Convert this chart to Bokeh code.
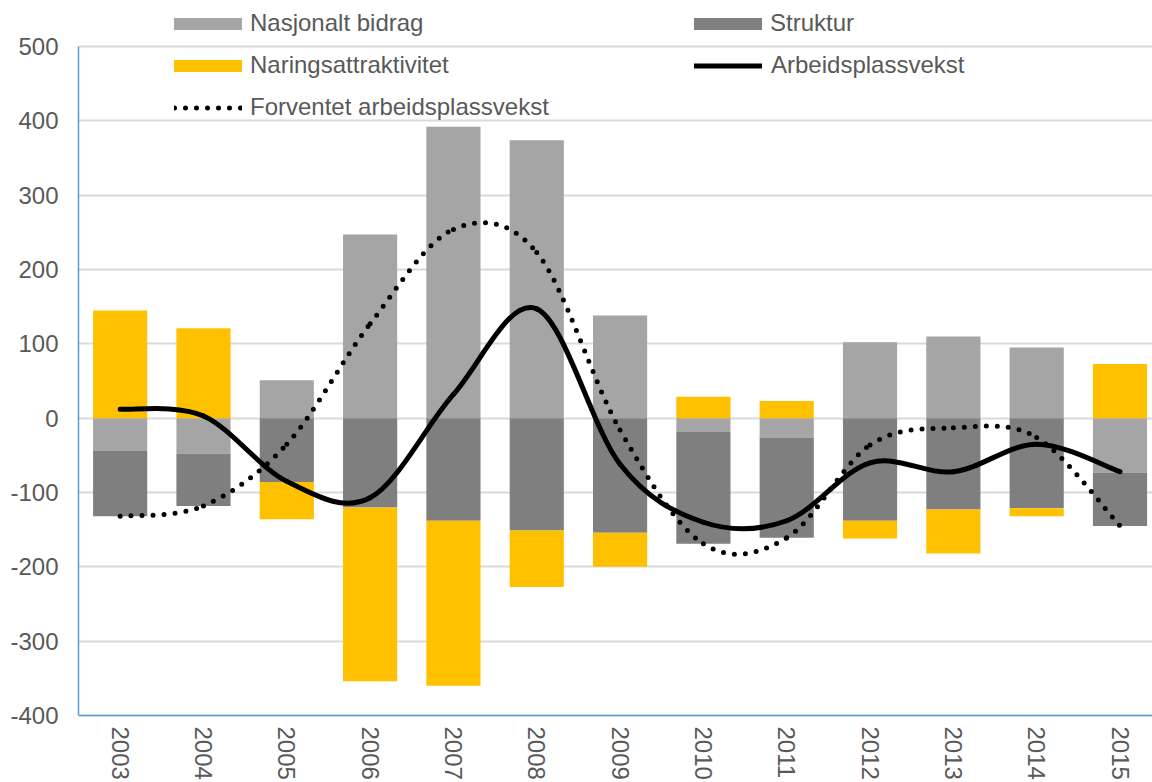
import math
import numpy as np
from bokeh.plotting import figure
from bokeh.models import FixedTicker, Legend, LegendItem, Range1d, ColumnDataSource
from bokeh.embed import file_html
from bokeh.resources import INLINE

# ---------------- data ----------------
years = ["2003", "2004", "2005", "2006", "2007", "2008", "2009",
         "2010", "2011", "2012", "2013", "2014", "2015"]
nasjonalt_bidrag = [-44, -48, 51, 247, 392, 374, 138, -18, -26, 102, 110, 95, -73]
struktur = [-88, -70, -86, -120, -138, -151, -154, -151, -135, -138, -123, -121, -72]
naringsattraktivitet = [145, 121, -50, -234, -222, -76, -46, 29, 23, -24, -59, -11, 73]
arbeidsplassvekst = [12, 3, -85, -107, 32, 147, -62, -140, -138, -60, -72, -35, -72]
forventet_arbeidsplassvekst = [-132, -118, -35, 127, 254, 223, -16, -169, -161, -36, -13, -26, -145]
y_ticks = [-400, -300, -200, -100, 0, 100, 200, 300, 400, 500]
y_tick_labels = ["-400", "-300", "-200", "-100", "0", "100", "200", "300", "400", "500"]

series_names = ["Nasjonalt bidrag", "Struktur", "Naringsattraktivitet"]
series_values = [nasjonalt_bidrag, struktur, naringsattraktivitet]
series_colors = ["#A5A5A5", "#7F7F7F", "#FFC000"]

FONT = "Liberation Sans"
TXT = "#595959"

xs = np.arange(len(years), dtype=float)

W, H = 1152, 782
p = figure(width=W, height=H, output_backend="svg", toolbar_location=None,
           x_range=Range1d(-0.5, 12.39), y_range=Range1d(-490.1, 561.9),
           min_border_left=78, min_border_right=0, min_border_top=0,
           min_border_bottom=0)
p.outline_line_color = None
p.background_fill_color = "white"
p.border_fill_color = "white"

# ---- stacked bars (positives stack up, negatives stack down) ----
pos_acc = np.zeros(len(years))
neg_acc = np.zeros(len(years))
bar_renderers = []
for name, vals, col in zip(series_names, series_values, series_colors):
    v = np.array(vals, dtype=float)
    bottom = np.where(v >= 0, pos_acc, neg_acc)
    top = bottom + v
    pos_acc = np.where(v >= 0, pos_acc + v, pos_acc)
    neg_acc = np.where(v < 0, neg_acc + v, neg_acc)
    src = ColumnDataSource(dict(x=xs, top=top, bottom=bottom))
    r = p.vbar(x="x", top="top", bottom="bottom", width=0.65, source=src,
               fill_color=col, line_color=None)
    bar_renderers.append(r)


# ---- smoothed lines (cubic Bezier segments through the data points) ----
def bezier_source(xv, yv):
    xv = np.asarray(xv, dtype=float)
    yv = np.asarray(yv, dtype=float)
    n = len(xv)
    qx = np.concatenate([[xv[0]], xv, [xv[-1]]])
    qy = np.concatenate([[yv[0]], yv, [yv[-1]]])
    cx0 = qx[1:n] + (qx[2:n + 1] - qx[0:n - 1]) / 6.0
    cy0 = qy[1:n] + (qy[2:n + 1] - qy[0:n - 1]) / 6.0
    cx1 = qx[2:n + 1] - (qx[3:n + 2] - qx[1:n]) / 6.0
    cy1 = qy[2:n + 1] - (qy[3:n + 2] - qy[1:n]) / 6.0
    return ColumnDataSource(dict(x0=xv[:-1], y0=yv[:-1], x1=xv[1:], y1=yv[1:],
                                 cx0=cx0, cy0=cy0, cx1=cx1, cy1=cy1))


solid = p.bezier(x0="x0", y0="y0", x1="x1", y1="y1", cx0="cx0", cy0="cy0",
                 cx1="cx1", cy1="cy1", source=bezier_source(xs, arbeidsplassvekst),
                 line_color="black", line_width=5, line_cap="round")
dotted = p.bezier(x0="x0", y0="y0", x1="x1", y1="y1", cx0="cx0", cy0="cy0",
                  cx1="cx1", cy1="cy1",
                  source=bezier_source(xs, forventet_arbeidsplassvekst),
                  line_color="black", line_width=5, line_cap="round",
                  line_dash="0 11")

# ---- axes ----
yax = p.yaxis[0]
yax.ticker = FixedTicker(ticks=y_ticks)
yax.major_label_overrides = {t: s for t, s in zip(y_ticks, y_tick_labels)}
yax.bounds = (-400, 500)
yax.axis_line_color = "#5B9BD5"
yax.axis_line_width = 1.5
yax.major_tick_line_color = None
yax.minor_tick_line_color = None
yax.major_tick_out = 0
yax.major_label_standoff = 20
yax.major_label_text_font = FONT
yax.major_label_text_font_size = "24px"
yax.major_label_text_color = TXT

xax = p.xaxis[0]
xax.ticker = FixedTicker(ticks=list(range(len(years))))
xax.major_label_overrides = {i: y for i, y in enumerate(years)}
xax.fixed_location = -400
xax.axis_line_color = "#5B9BD5"
xax.axis_line_width = 1.5
xax.major_tick_line_color = None
xax.minor_tick_line_color = None
xax.major_tick_out = 0
xax.major_label_standoff = 11
xax.major_label_orientation = -math.pi / 2
xax.major_label_text_font = FONT
xax.major_label_text_font_size = "24px"
xax.major_label_text_color = TXT

p.xgrid.visible = False
p.ygrid.ticker = FixedTicker(ticks=y_ticks)
p.ygrid.grid_line_color = "#D9D9D9"
p.ygrid.grid_line_width = 2


# ---- legends (one entry each, placed like the original) ----
def add_legend(label, renderer, x, y, gw, gh, standoff):
    lg = Legend(items=[LegendItem(label=label, renderers=[renderer])],
                location=(x, y), padding=0, margin=0, spacing=0,
                glyph_width=gw, glyph_height=gh, label_standoff=standoff,
                label_height=gh,
                border_line_color=None, background_fill_alpha=0,
                label_text_font=FONT, label_text_font_size="24px",
                label_text_color=TXT)
    p.add_layout(lg, "center")


add_legend("Nasjonalt bidrag", bar_renderers[0], 87, 745, 85, 15, 0)
add_legend("Naringsattraktivitet", bar_renderers[2], 87, 703, 85, 15, 0)
add_legend("Forventet arbeidsplassvekst", dotted, 96, 661, 68, 15, 8)
add_legend("Struktur", bar_renderers[1], 607, 745, 85, 15, 0)
add_legend("Arbeidsplassvekst", solid, 616, 703, 68, 15, 9)

open("out.html", "w").write(file_html(p, INLINE))
